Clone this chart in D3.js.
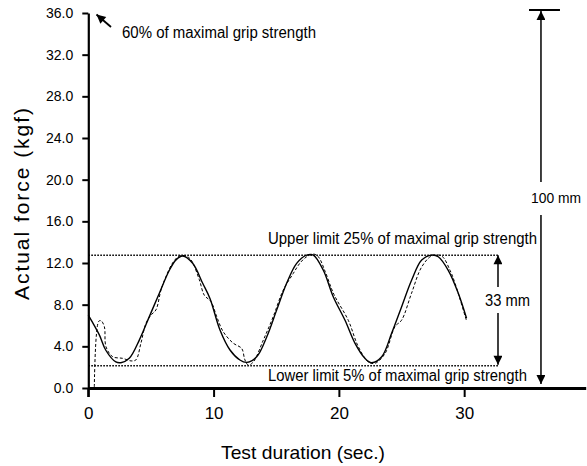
<!DOCTYPE html>
<html>
<head>
<meta charset="utf-8">
<script src="https://cdn.jsdelivr.net/npm/d3@7"></script>
<style>
  html, body { margin: 0; padding: 0; background: #fff; }
  svg { display: block; }
  text { fill: #000; }
</style>
</head>
<body>
<svg id="chart" width="587" height="466"></svg>
<script>
// Target force (solid sine-like curve), seconds vs kgf
const targetTime  = [0, 0.88, 1.41, 2.2, 2.6, 3.27, 4.07, 4.87, 5.67, 6.47, 7.0, 7.53, 8.33, 9.13, 9.71, 10.51, 11.31, 12.1, 12.64, 13.44, 14.24, 15.04, 15.83, 16.63, 17.43, 17.96, 18.76, 19.55, 20.49, 21.29, 22.08, 22.61, 23.42, 24.21, 25.01, 25.81, 26.61, 27.4, 27.93, 28.73, 29.53, 30.19];
const targetForce = [7.0, 5.1, 3.6, 2.5, 2.43, 2.85, 4.6, 6.85, 9.1, 11.3, 12.3, 12.67, 11.97, 10.05, 8.6, 5.57, 3.65, 2.69, 2.46, 3.0, 4.9, 7.5, 10.05, 11.97, 12.76, 12.76, 11.3, 8.76, 6.5, 4.29, 2.85, 2.43, 3.0, 5.25, 7.8, 10.36, 12.28, 12.76, 12.6, 11.3, 9.1, 6.7];

// Actual force exerted by the subject (dashed curve)
const actualTime  = [0.48, 0.83, 1.01, 1.28, 1.41, 1.95, 2.74, 3.41, 3.8, 4.2, 4.6, 5.0, 5.4, 5.8, 6.2, 6.73, 7.26, 7.8, 8.2, 8.86, 9.26, 9.79, 10.25, 10.77, 11.57, 12.24, 12.5, 12.77, 13.17, 13.97, 14.76, 15.56, 16.36, 16.9, 17.43, 17.96, 18.36, 18.9, 19.6, 20.75, 21.55, 22.35, 22.88, 23.68, 24.48, 25.0, 25.8, 26.6, 27.4, 28.2, 28.87, 29.27, 30.2];
const actualForce = [0.1, 6.4, 6.46, 5.9, 3.97, 3.0, 2.85, 2.6, 2.7, 4.3, 6.2, 7.0, 7.5, 9.4, 10.7, 12.0, 12.67, 12.67, 12.3, 10.4, 8.9, 8.3, 6.85, 5.4, 4.3, 3.8, 2.7, 2.2, 2.5, 4.6, 6.85, 9.4, 11.0, 12.0, 12.6, 12.86, 12.6, 11.2, 9.0, 6.5, 3.97, 2.5, 2.37, 3.3, 5.9, 6.5, 9.1, 11.6, 12.67, 12.67, 11.3, 10.05, 6.4];

// Axis ticks
const yTicks = [0, 4, 8, 12, 16, 20, 24, 28, 32, 36];
const xTicks = [0, 10, 20, 30];

// Reference levels (kgf) and annotation positions (sec)
const upperLimit = 12.74;
const lowerLimit = 2.14;
const limitEnd = 32.7;
const fullScaleX = 36.13;

const narrow = '"Liberation Sans Narrow", "Arial Narrow", "Liberation Sans", Arial, sans-serif';
const regular = '"Liberation Sans", Arial, sans-serif';

const svg = d3.select("#chart");

const x = d3.scaleLinear().domain([0, 39.7]).range([88.3, 585.7]);
const y = d3.scaleLinear().domain([0, 36]).range([388, 13]);

// arrow head marker
const defs = svg.append("defs");
defs.append("marker")
  .attr("id", "headBig")
  .attr("viewBox", "0 0 10 10")
  .attr("refX", 10).attr("refY", 5)
  .attr("markerWidth", 11).attr("markerHeight", 9)
  .attr("markerUnits", "userSpaceOnUse")
  .attr("orient", "auto")
  .append("path").attr("d", "M0,0 L10,5 L0,10 Z").attr("fill", "#000");

// limit lines (dotted)
[upperLimit, lowerLimit].forEach(v => {
  svg.append("line")
    .attr("x1", x(0)).attr("x2", x(limitEnd))
    .attr("y1", y(v)).attr("y2", y(v))
    .attr("stroke", "#000").attr("stroke-width", 1.6)
    .attr("stroke-dasharray", "1.6,1.4");
});

// curves
const targetData = targetTime.map((t, i) => [t, targetForce[i]]);
const actualData = actualTime.map((t, i) => [t, actualForce[i]]);
const line = d3.line()
  .x(d => x(d[0])).y(d => y(d[1]))
  .curve(d3.curveCatmullRom.alpha(0.5));

svg.append("path").datum(actualData)
  .attr("d", line).attr("fill", "none")
  .attr("stroke", "#000").attr("stroke-width", 1)
  .attr("stroke-dasharray", "3,2");

svg.append("path").datum(targetData)
  .attr("d", line).attr("fill", "none")
  .attr("stroke", "#000").attr("stroke-width", 1.4);

// y axis
const yAxis = svg.append("g")
  .attr("transform", `translate(${x(0)},0)`)
  .call(d3.axisLeft(y).tickValues(yTicks).tickFormat(d3.format(".1f")).tickSize(6).tickSizeOuter(0).tickPadding(9));
yAxis.select(".domain").attr("stroke-width", 2.2);
yAxis.selectAll(".tick line").attr("stroke-width", 2);
yAxis.selectAll(".tick text")
  .style("font-family", narrow).style("font-size", "14px").attr("fill", "#000");

// extension of y axis below baseline
svg.append("line")
  .attr("x1", x(0)).attr("x2", x(0))
  .attr("y1", y(0)).attr("y2", y(0) + 9)
  .attr("stroke", "#000").attr("stroke-width", 2.2);

// x axis
const xAxis = svg.append("g")
  .attr("transform", `translate(0,${y(0)})`)
  .call(d3.axisBottom(x).tickValues(xTicks).tickFormat(d3.format("d")).tickSize(9).tickSizeOuter(0).tickPadding(10));
xAxis.select(".domain").attr("stroke-width", 3);
xAxis.selectAll(".tick line").attr("stroke-width", 2);
xAxis.selectAll(".tick text")
  .style("font-family", narrow).style("font-size", "17px").attr("fill", "#000");

// axis titles
svg.append("text")
  .attr("x", 303).attr("y", 459)
  .attr("text-anchor", "middle")
  .attr("textLength", 164).attr("lengthAdjust", "spacingAndGlyphs")
  .style("font-family", narrow).style("font-size", "19px")
  .text("Test duration (sec.)");

svg.append("text")
  .attr("transform", "translate(29,204) rotate(-90)")
  .attr("text-anchor", "middle")
  .attr("textLength", 192).attr("lengthAdjust", "spacing")
  .style("font-family", regular).style("font-size", "21px")
  .text("Actual force (kgf)");

// 60% annotation with arrow
svg.append("line")
  .attr("x1", 111).attr("y1", 27)
  .attr("x2", 96.5).attr("y2", 14.5)
  .attr("stroke", "#000").attr("stroke-width", 1.8)
  .attr("marker-end", "url(#headBig)");
svg.append("text")
  .attr("x", 122).attr("y", 38)
  .attr("textLength", 194).attr("lengthAdjust", "spacingAndGlyphs")
  .style("font-family", narrow).style("font-size", "16px")
  .text("60% of maximal grip strength");

// limit labels
svg.append("text")
  .attr("x", 268).attr("y", 244)
  .attr("textLength", 269).attr("lengthAdjust", "spacingAndGlyphs")
  .style("font-family", narrow).style("font-size", "16px")
  .text("Upper limit 25% of maximal grip strength");
svg.append("text")
  .attr("x", 268).attr("y", 381)
  .attr("textLength", 259).attr("lengthAdjust", "spacingAndGlyphs")
  .style("font-family", narrow).style("font-size", "16px")
  .text("Lower limit 5% of maximal grip strength");

// 33 mm double arrow between limits
const ax = x(limitEnd);
svg.append("line")
  .attr("x1", ax).attr("x2", ax)
  .attr("y1", 287).attr("y2", y(upperLimit))
  .attr("stroke", "#000").attr("stroke-width", 1.5)
  .attr("marker-end", "url(#headBig)");
svg.append("line")
  .attr("x1", ax).attr("x2", ax)
  .attr("y1", 313).attr("y2", y(lowerLimit) - 1)
  .attr("stroke", "#000").attr("stroke-width", 1.5)
  .attr("marker-end", "url(#headBig)");
svg.append("text")
  .attr("x", 485).attr("y", 306)
  .attr("textLength", 45).attr("lengthAdjust", "spacingAndGlyphs")
  .style("font-family", narrow).style("font-size", "16px")
  .text("33 mm");

// 100 mm full-scale arrow
const fx = x(fullScaleX);
svg.append("line")
  .attr("x1", fx - 12).attr("x2", fx + 19)
  .attr("y1", y(36) - 3).attr("y2", y(36) - 3)
  .attr("stroke", "#000").attr("stroke-width", 2);
svg.append("line")
  .attr("x1", fx).attr("x2", fx)
  .attr("y1", 182).attr("y2", y(36) - 2)
  .attr("stroke", "#000").attr("stroke-width", 1.5)
  .attr("marker-end", "url(#headBig)");
svg.append("line")
  .attr("x1", fx).attr("x2", fx)
  .attr("y1", 215).attr("y2", y(0) - 4)
  .attr("stroke", "#000").attr("stroke-width", 1.5)
  .attr("marker-end", "url(#headBig)");
svg.append("text")
  .attr("x", 531).attr("y", 203)
  .attr("textLength", 50).attr("lengthAdjust", "spacingAndGlyphs")
  .style("font-family", narrow).style("font-size", "14.5px")
  .text("100 mm");
</script>
</body>
</html>
